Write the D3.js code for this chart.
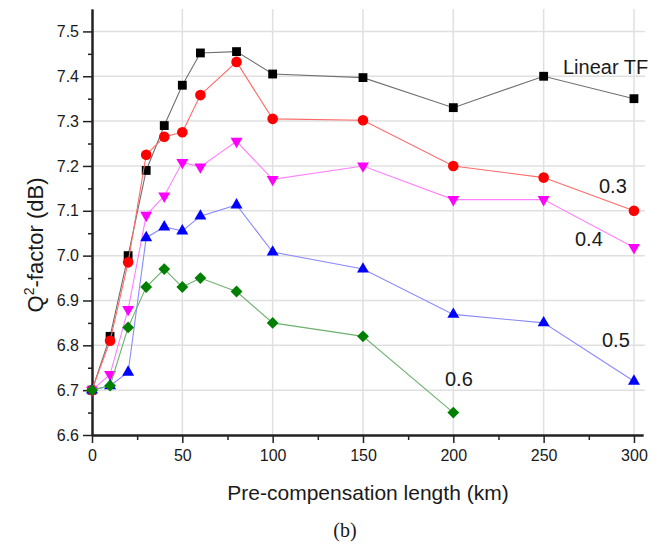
<!DOCTYPE html>
<html>
<head>
<script src="https://d3js.org/d3.v7.min.js"></script>
<style>
  body { margin: 0; background: #fff; }
  text { font-family: "Liberation Sans", Arial, sans-serif; fill: #1a1a1a; }
</style>
</head>
<body>
<svg width="670" height="546"></svg>
<script>
// data
const xVals = [0, 10, 20, 30, 40, 50, 60, 80, 100, 150, 200, 250, 300];
const linearTF = [6.70, 6.82, 7.00, 7.19, 7.29, 7.38, 7.452, 7.455, 7.405, 7.397, 7.33, 7.40, 7.35];
const beta03 = [6.70, 6.81, 6.985, 7.225, 7.265, 7.275, 7.358, 7.432, 7.305, 7.302, 7.20, 7.174, 7.10];
const beta04 = [6.70, 6.735, 6.88, 7.09, 7.133, 7.208, 7.198, 7.255, 7.17, 7.20, 7.125, 7.125, 7.018];
const beta05 = [6.70, 6.71, 6.74, 7.04, 7.064, 7.055, 7.088, 7.113, 7.008, 6.97, 6.869, 6.85, 6.72];
const beta06 = [6.70, 6.71, 6.84, 6.93, 6.97, 6.93, 6.95, 6.92, 6.85, 6.82, 6.65];
const xTicks = [0, 50, 100, 150, 200, 250, 300];
const yTicks = [6.6, 6.7, 6.8, 6.9, 7.0, 7.1, 7.2, 7.3, 7.4, 7.5];

const series = [
  { name: "Linear TF", y: linearTF, line: "#707070", fill: "#000000", shape: "square" },
  { name: "0.3", y: beta03, line: "#ff6a6a", fill: "#ff0000", shape: "circle" },
  { name: "0.4", y: beta04, line: "#ff80ff", fill: "#ff00ff", shape: "down" },
  { name: "0.5", y: beta05, line: "#8a8aff", fill: "#0000ff", shape: "up" },
  { name: "0.6", y: beta06, line: "#6fb06f", fill: "#008000", shape: "diamond" }
];

const svg = d3.select("svg");
const pLeft = 92, pRight = 643, pTop = 9, pBottom = 435;

const x = d3.scaleLinear().domain([0, 305]).range([pLeft, pRight]);
const y = d3.scaleLinear().domain([6.6, 7.55]).range([pBottom, pTop]);

// grid
const grid = svg.append("g").attr("stroke", "#e0e0e0").attr("stroke-width", 1.5);
grid.selectAll(".vg").data(xTicks.slice(1)).enter().append("line")
  .attr("x1", d => x(d)).attr("x2", d => x(d))
  .attr("y1", pTop).attr("y2", pBottom);
grid.selectAll(".hg").data(yTicks.slice(1)).enter().append("line")
  .attr("x1", pLeft).attr("x2", pRight + 2)
  .attr("y1", d => y(d)).attr("y2", d => y(d));

// axes
const xAxis = d3.axisBottom(x).tickValues(xTicks).tickSize(8).tickSizeOuter(0).tickPadding(7);
const xMinor = d3.axisBottom(x).tickValues(d3.range(25, 300, 50)).tickSize(5).tickFormat("").tickSizeOuter(0);
const yAxis = d3.axisLeft(y).tickValues(yTicks).tickSize(9).tickSizeOuter(0).tickPadding(4).tickFormat(d3.format(".1f"));
const yMinor = d3.axisLeft(y).tickValues(d3.range(6.65, 7.55, 0.1)).tickSize(4).tickFormat("").tickSizeOuter(0);

function styleAxis(g) {
  g.select(".domain").attr("stroke", "#222").attr("stroke-width", 2);
  g.selectAll(".tick line").attr("stroke", "#222").attr("stroke-width", 1.5);
  g.selectAll(".tick text").style("font-size", "16px").attr("fill", "#1a1a1a");
}

svg.append("g").attr("transform", `translate(0,${pBottom})`).call(xMinor).call(styleAxis);
svg.append("g").attr("transform", `translate(0,${pBottom})`).call(xAxis).call(styleAxis);
svg.append("g").attr("transform", `translate(${pLeft},0)`).call(yMinor).call(styleAxis);
svg.append("g").attr("transform", `translate(${pLeft},0)`).call(yAxis).call(styleAxis);

// series
const line = d3.line().x(d => x(d[0])).y(d => y(d[1]));
const symbols = {
  square: { type: d3.symbolSquare, size: 78, rot: 0 },
  circle: { type: d3.symbolCircle, size: 88, rot: 0 },
  up: { type: d3.symbolTriangle, size: 62, rot: 0 },
  down: { type: d3.symbolTriangle, size: 62, rot: 180 },
  diamond: { type: d3.symbolSquare, size: 70, rot: 45 }
};

series.forEach(s => {
  const pts = s.y.map((v, i) => [xVals[i], v]);
  const g = svg.append("g");
  g.append("path").datum(pts)
    .attr("d", line)
    .attr("fill", "none")
    .attr("stroke", s.line)
    .attr("stroke-width", 1.1);
  const sym = symbols[s.shape];
  g.selectAll(".pt").data(pts).enter().append("path")
    .attr("d", d3.symbol().type(sym.type).size(sym.size))
    .attr("transform", d => `translate(${x(d[0])},${y(d[1])}) rotate(${sym.rot})`)
    .attr("fill", s.fill);
});

// series labels
const labels = [
  { text: "Linear TF", x: 563, y: 74 },
  { text: "0.3", x: 599, y: 193 },
  { text: "0.4", x: 575, y: 246 },
  { text: "0.5", x: 602, y: 347 },
  { text: "0.6", x: 445, y: 386 }
];
svg.selectAll(".lbl").data(labels).enter().append("text")
  .attr("x", d => d.x).attr("y", d => d.y)
  .style("font-size", "20px")
  .text(d => d.text);

// axis titles
svg.append("text")
  .attr("x", 368).attr("y", 500)
  .attr("text-anchor", "middle")
  .style("font-size", "21px")
  .text("Pre-compensation length (km)");

const yt = svg.append("text")
  .attr("transform", "translate(43,245) rotate(-90)")
  .attr("text-anchor", "middle")
  .style("font-size", "22px");
yt.append("tspan").text("Q");
yt.append("tspan").attr("dy", -9).style("font-size", "14px").text("2");
yt.append("tspan").attr("dy", 9).text("-factor (dB)");

svg.append("text")
  .attr("x", 345).attr("y", 537)
  .attr("text-anchor", "middle")
  .style("font-family", "'Liberation Serif', 'Times New Roman', serif")
  .style("font-size", "20px")
  .text("(b)");
</script>
</body>
</html>
